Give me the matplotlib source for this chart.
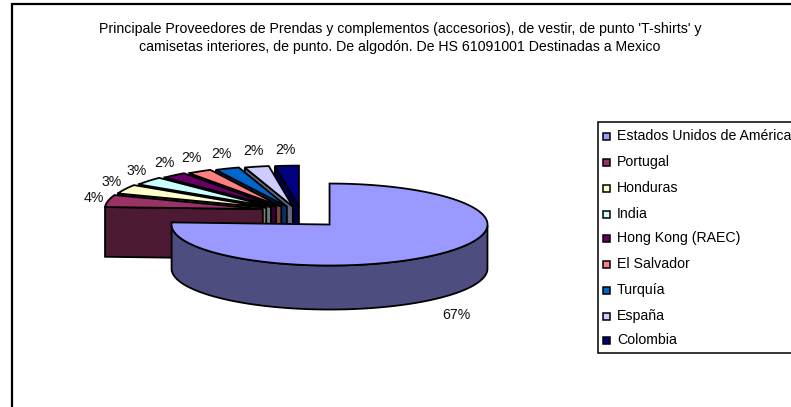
import numpy as np
import matplotlib
matplotlib.use('Agg')
import matplotlib.pyplot as plt
from matplotlib.patches import Rectangle

plt.rcParams['font.family'] = ['Liberation Sans', 'DejaVu Sans']

titulo = ("Principale Proveedores de Prendas y complementos (accesorios), de vestir, de punto 'T-shirts' y\n"
          "camisetas interiores, de punto. De algodón. De HS 61091001 Destinadas a Mexico")
paises = ['Estados Unidos de América', 'Portugal', 'Honduras', 'India', 'Hong Kong (RAEC)',
          'El Salvador', 'Turquía', 'España', 'Colombia']
valores = [67, 4.2, 3.2, 2.9, 2.3, 2.2, 2.2, 2.2, 2.15]
colores = ['#9999FF', '#993366', '#FFFFCC', '#CCFFFF', '#660066',
           '#FF8080', '#0066CC', '#CCCCFF', '#000080']

# geometria del pastel, en pixeles de la imagen
cx, cy = 302, 217
rx, ry = 158, 41
prof = 44
expl = 40
tam = 10.2


def oscuro(color):
    return tuple(c * 0.5 for c in matplotlib.colors.to_rgb(color))


def punto(x0, y0, ang, kx=rx, ky=ry):
    # angulo en radianes, horario desde las 12
    return x0 + kx * np.sin(ang), y0 - ky * np.cos(ang)


def dibujar_porcion(ax, ini, fin, color, z):
    mitad = (ini + fin) / 2
    x0 = cx + expl * np.sin(mitad)
    y0 = cy - expl * ry / rx * np.cos(mitad)
    alto = prof
    # las porciones de la izquierda van algo mas altas, como en la perspectiva original
    if np.sin(mitad) < 0:
        subida = 6 * np.sin(mitad) ** 2
        y0 -= subida
        alto += subida
    a = np.linspace(ini, fin, 120)
    xs, ys = punto(x0, y0, a)

    # cara radial de inicio (solo se ve en las porciones de la izquierda)
    if np.sin(ini) < 0:
        xi, yi = punto(x0, y0, ini)
        ax.fill([x0, xi, xi, x0], [y0, yi, yi + alto, y0 + alto], fc=oscuro(color),
                ec='black', lw=1.3, zorder=z)
    # cara del borde, solo en la mitad frontal de la elipse
    frente = np.cos(a) < 0
    if frente.any():
        xf, yf = xs[frente], ys[frente]
        ax.fill(np.r_[xf, xf[::-1]], np.r_[yf, yf[::-1] + alto], fc=oscuro(color),
                ec='black', lw=1.3, zorder=z)
    ax.fill(np.r_[x0, xs], np.r_[y0, ys], fc=color, ec='black', lw=1.3, zorder=z + 0.5)
    return x0, y0, mitad


fig = plt.figure(figsize=(7.91, 4.07), dpi=100, facecolor='white')
ax = fig.add_axes([0, 0, 1, 1])
ax.set_xlim(0, 791)
ax.set_ylim(407, 0)
ax.axis('off')

# marco exterior, se sale de la imagen por la derecha y por abajo
ax.add_patch(Rectangle((12, 4), 800, 420, fc='white', ec='black', lw=1.6, zorder=0))
ax.text(400, 38, titulo, ha='center', va='center', fontsize=tam, color='black',
        linespacing=1.32, zorder=20)

total = sum(valores)
angulos = np.r_[0, np.cumsum(valores)] / total * 2 * np.pi

# de atras hacia adelante: Colombia primero, Estados Unidos al final
for i in range(len(valores) - 1, -1, -1):
    x0, y0, mitad = dibujar_porcion(ax, angulos[i], angulos[i + 1], colores[i], 2 + (len(valores) - i))
    lx, ly = punto(x0, y0, mitad, rx + 15, ry + 16)
    if np.cos(mitad) < 0:
        lx, ly = lx + 8, ly + prof + 5
    ax.text(lx, ly, f'{valores[i] / 100:.0%}', ha='center', va='center', fontsize=tam,
            color='#111111', zorder=20)

# leyenda
ax.add_patch(Rectangle((598, 122), 220, 231, fc='white', ec='black', lw=1.1, zorder=15))
filas = [136, 162, 188, 214, 238, 264, 290, 316, 340]
for pais, color, y in zip(paises, colores, filas):
    ax.add_patch(Rectangle((602.5, y - 3.5), 7.5, 7.5, fc=color, ec='black', lw=1.1, zorder=16))
    ax.text(617, y, pais, ha='left', va='center', fontsize=tam, color='black', zorder=16)

fig.savefig('out.png', dpi=100)
